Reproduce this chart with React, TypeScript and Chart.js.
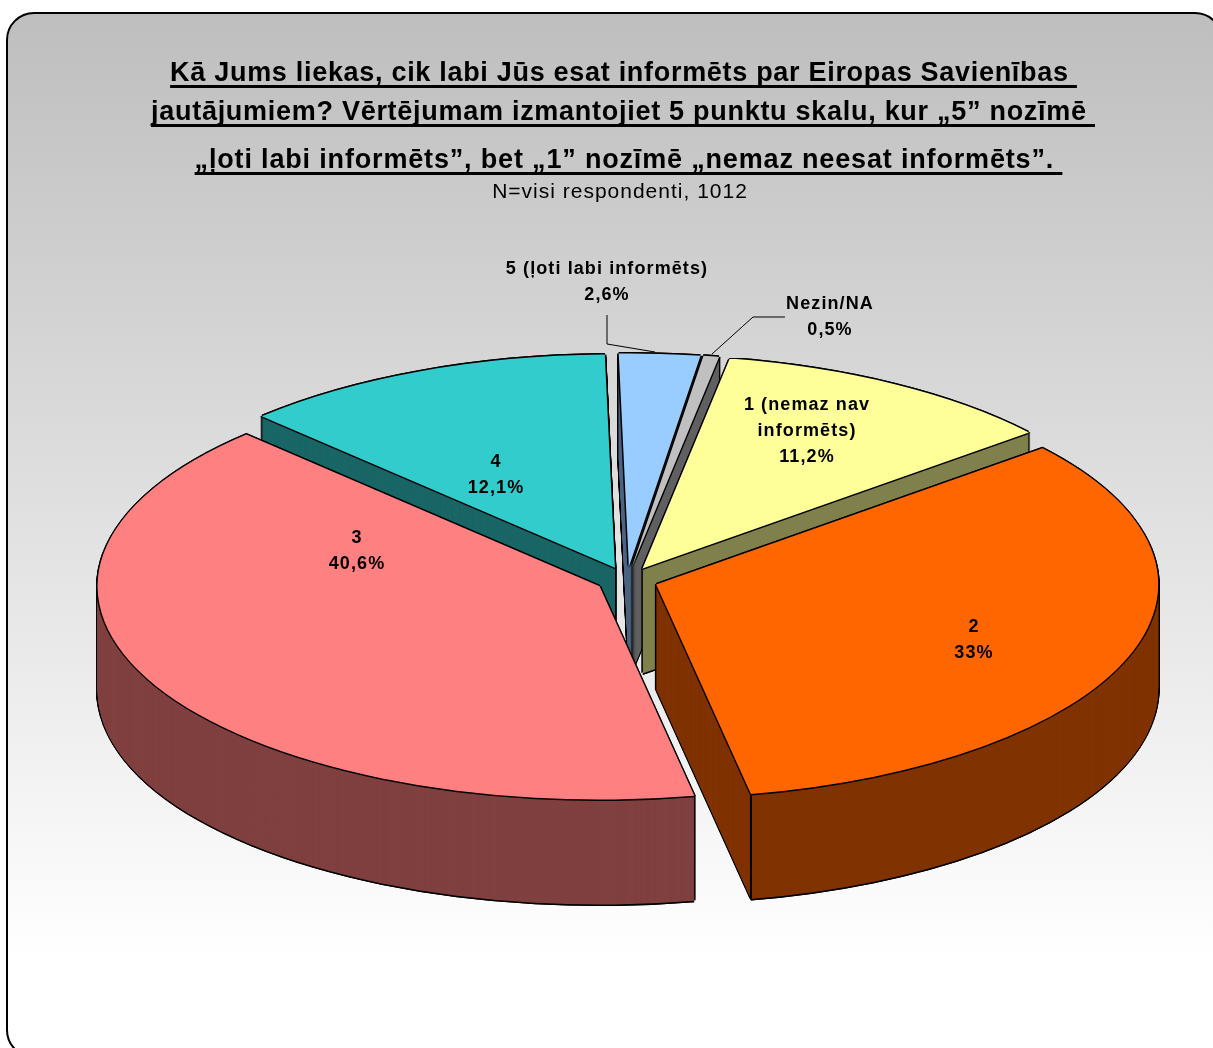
import React, { useEffect, useRef } from "react";
import { Chart, ArcElement, PieController } from "chart.js";

Chart.register(ArcElement, PieController);

const categories = ["Nezin/NA", "1 (nemaz nav informēts)", "2", "3", "4", "5 (ļoti labi informēts)"];
const shares = [0.5, 11.2, 33, 40.6, 12.1, 2.6];
const valueLabels = ["0,5%", "11,2%", "33%", "40,6%", "12,1%", "2,6%"];
const labelLines = [["Nezin/NA"], ["1 (nemaz nav", "informēts)"], ["2"], ["3"], ["4"], ["5 (ļoti labi informēts)"]];
const topColors = ["#C0C0C0", "#FFFF99", "#FF6600", "#FF8080", "#33CCCC", "#99CCFF"];
const wallColors = ["#606060", "#80804D", "#803300", "#804040", "#1A6666", "#4D6680"];
const titleLines = [
  "Kā Jums liekas, cik labi Jūs esat informēts par Eiropas Savienības ",
  "jautājumiem? Vērtējumam izmantojiet 5 punktu skalu, kur „5” nozīmē ",
  "„ļoti labi informēts”, bet „1” nozīmē „nemaz neesat informēts”. ",
];
const subtitle = "N=visi respondenti, 1012";

// layout
const W = 1213, H = 1048;
const CX = 627, CY = 580, R = 502, SQUASH = 0.425, EXPLODE = 31, DEPTH = 105, START_DEG = 8.2;
const OUTLINE = 1.5;
const paintOrder = [4, 5, 0, 1, 3, 2];
const titleBaselines = [81, 120, 168];
const titleCenters = [623.5, 623, 628.5];
const titleSpacing = ["0.7px", "0.72px", "0.83px"];
const labelCenters: [number, number][] = [[830, 304], [807, 405], [974, 627], [357, 538], [496, 462], [607, 269]];
const leaderLines: [number, number][][] = [
  [[785, 317], [753, 317], [712, 354]],
  [[607, 315], [607, 344], [655, 352]],
];

const threeD = {
  id: "threeD",
  beforeDraw(chart: any) {
    const ctx = chart.ctx;
    ctx.save();
    ctx.fillStyle = "#fff";
    ctx.fillRect(0, 0, W, H);
    const g = ctx.createLinearGradient(0, 13, 0, 960);
    g.addColorStop(0, "#BEBEBE");
    g.addColorStop(1, "#FFFFFF");
    ctx.beginPath();
    ctx.roundRect(7, 13, 1215, 1044, 27);
    ctx.fillStyle = g;
    ctx.fill();
    ctx.lineWidth = 2;
    ctx.strokeStyle = "#000";
    ctx.stroke();

    // titles
    ctx.fillStyle = "#000";
    ctx.textBaseline = "alphabetic";
    ctx.textAlign = "left";
    ctx.font = "bold 27px 'Liberation Sans'";
    titleLines.forEach((t, i) => {
      ctx.letterSpacing = titleSpacing[i];
      const w = ctx.measureText(t).width;
      const x = titleCenters[i] - w / 2;
      ctx.fillText(t, x, titleBaselines[i]);
      ctx.fillRect(x, titleBaselines[i] + 4, w, 3);
    });
    ctx.font = "21px 'Liberation Sans'";
    ctx.letterSpacing = "1px";
    ctx.textAlign = "center";
    ctx.fillText(subtitle, 620, 198);
    ctx.restore();
  },
  beforeDatasetsDraw(chart: any) {
    const ctx = chart.ctx;
    const arcs = chart.getDatasetMeta(0).data;
    const paint = (arc: any, dx: number, dy: number, color: string) => {
      const half = (arc.startAngle + arc.endAngle) / 2;
      ctx.save();
      ctx.translate(dx, dy + arc.y);
      ctx.scale(1, SQUASH);
      ctx.translate(0, -arc.y);
      ctx.translate(Math.cos(half) * EXPLODE, Math.sin(half) * EXPLODE);
      const clone = Object.create(arc);
      clone.options = { ...arc.options, backgroundColor: color, borderWidth: 0, offset: 0 };
      ArcElement.prototype.draw.call(clone, ctx);
      ctx.restore();
    };
    for (const i of paintOrder) {
      const arc = arcs[i];
      for (let y = DEPTH + OUTLINE; y >= -OUTLINE; y--) {
        paint(arc, 0, y, "#000");
        if (y >= 0 && y <= DEPTH) {
          paint(arc, -OUTLINE, y, "#000");
          paint(arc, OUTLINE, y, "#000");
        }
      }
      paint(arc, 0, DEPTH + OUTLINE, "#000");
      for (let y = DEPTH; y >= 0; y--) paint(arc, 0, y, wallColors[i]);
      // visible corner where the cut face meets the outer wall
      const half = (arc.startAngle + arc.endAngle) / 2;
      const e = arc.endAngle;
      if (Math.cos(e) > 0 && Math.sin(e) > 0) {
        const x = arc.x + Math.cos(half) * EXPLODE + Math.cos(e) * arc.outerRadius;
        const y = arc.y + (Math.sin(half) * EXPLODE + Math.sin(e) * arc.outerRadius) * SQUASH;
        ctx.save();
        ctx.strokeStyle = "#000";
        ctx.lineWidth = 2;
        ctx.beginPath();
        ctx.moveTo(x, y);
        ctx.lineTo(x, y + DEPTH);
        ctx.stroke();
        ctx.restore();
      }
      paint(arc, -OUTLINE, 0, "#000");
      paint(arc, OUTLINE, 0, "#000");
      paint(arc, 0, -OUTLINE, "#000");
      paint(arc, 0, OUTLINE, "#000");
      paint(arc, 0, 0, topColors[i]);
    }
    return false;
  },
  afterDraw(chart: any) {
    const ctx = chart.ctx;
    ctx.save();
    ctx.strokeStyle = "#000";
    ctx.lineWidth = 1;
    leaderLines.forEach((pts) => {
      ctx.beginPath();
      pts.forEach(([x, y], k) => (k ? ctx.lineTo(x, y) : ctx.moveTo(x, y)));
      ctx.stroke();
    });
    ctx.fillStyle = "#000";
    ctx.font = "bold 18px 'Liberation Sans'";
    ctx.letterSpacing = "1.1px";
    ctx.textAlign = "center";
    ctx.textBaseline = "middle";
    categories.forEach((_, i) => {
      const lines = [...labelLines[i], valueLabels[i]];
      lines.forEach((t, k) => ctx.fillText(t, labelCenters[i][0], labelCenters[i][1] + k * 26));
    });
    ctx.restore();
  },
};

export default function App() {
  const ref = useRef<HTMLCanvasElement>(null);
  useEffect(() => {
    const chart = new Chart(ref.current as HTMLCanvasElement, {
      type: "pie",
      data: {
        labels: categories,
        datasets: [{ data: shares, backgroundColor: topColors, borderWidth: 0 }],
      },
      options: {
        responsive: false,
        animation: false,
        devicePixelRatio: 1,
        rotation: START_DEG,
        radius: R,
        layout: { padding: { left: CX * 2 - W, top: CY * 2 - H, right: 0, bottom: 0 } },
        plugins: { legend: { display: false }, tooltip: { enabled: false } },
      } as any,
      plugins: [threeD],
    });
    return () => chart.destroy();
  }, []);
  return (
    <canvas
      ref={ref}
      width={W}
      height={H}
      style={{ display: "block", position: "absolute", left: 0, top: 0 }}
    />
  );
}
